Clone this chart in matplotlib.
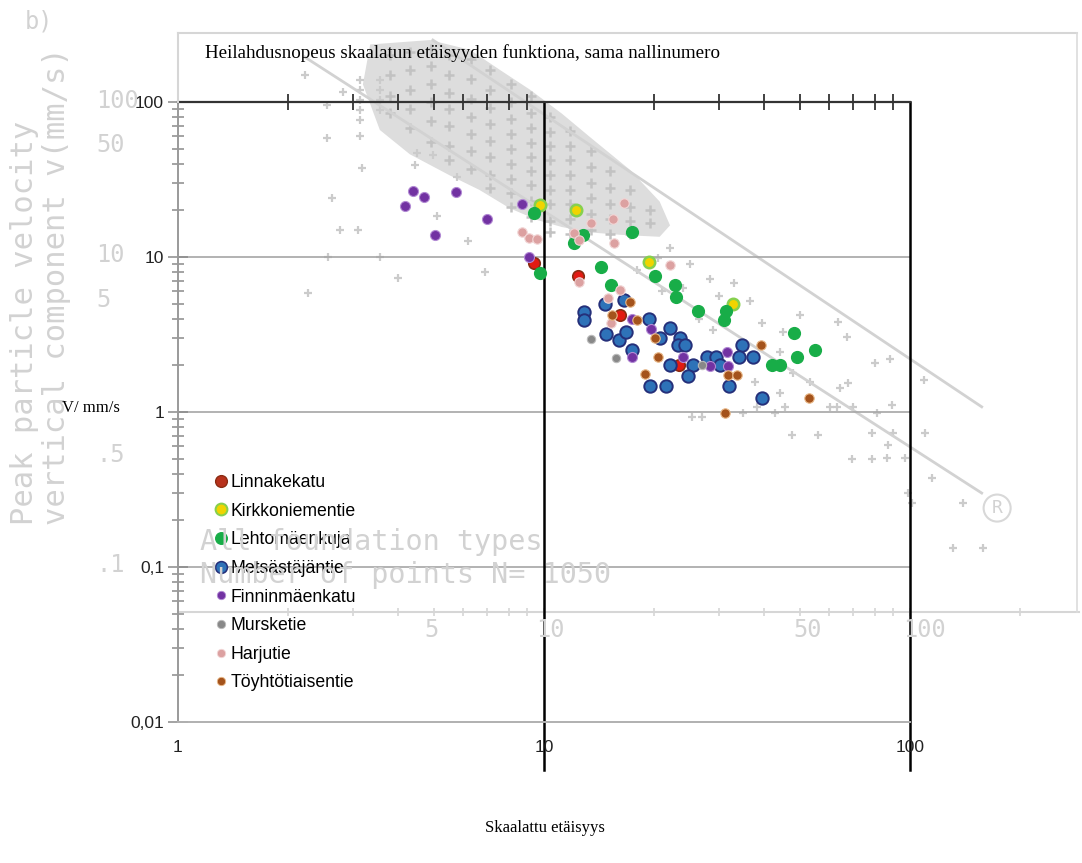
import matplotlib.pyplot as plt
from matplotlib.lines import Line2D

# mittaukset: skaalattu etäisyys ja heilahdusnopeus (mm/s)
linnake_x = [9.4, 12.4, 16.1, 23.4]
linnake_v = [9.1, 7.5, 4.2, 2.0]
kirkko_x = [9.75, 12.2, 19.4, 32.9]
kirkko_v = [21.7, 20.1, 9.3, 5.0]
lehto_x = [9.4, 9.75, 12.1, 12.8, 17.4, 14.3, 20.1, 15.2, 22.8, 23.0, 26.4, 31.4,
           31.1, 48.2, 55.0, 49.2, 41.9, 44.2]
lehto_v = [19.1, 7.9, 12.3, 13.9, 14.6, 8.6, 7.5, 6.6, 6.6, 5.5, 4.5, 4.5,
           3.9, 3.25, 2.5, 2.25, 2.0, 2.0]
metsa_x = [12.9, 12.9, 14.7, 16.5, 14.8, 16.0, 16.7, 17.4, 19.3, 22.1, 20.7, 23.5,
           23.3, 24.3, 22.1, 25.6, 24.8, 19.5, 21.5, 27.8, 29.6, 30.3, 34.7, 34.0,
           37.3, 32.1, 39.3]
metsa_v = [4.4, 3.9, 5.0, 5.3, 3.2, 2.9, 3.3, 2.5, 4.0, 3.5, 3.0, 3.0,
           2.7, 2.7, 2.0, 2.0, 1.7, 1.47, 1.47, 2.25, 2.25, 2.0, 2.7, 2.25,
           2.25, 1.47, 1.24]
finnin_x = [4.38, 4.71, 4.18, 5.74, 5.04, 6.97, 8.73, 9.12, 17.4, 19.6, 17.4, 24.0,
            28.4, 31.6, 31.8]
finnin_v = [26.8, 24.5, 21.4, 26.1, 13.9, 17.6, 22.0, 9.95, 3.98, 3.43, 2.26, 2.26,
            1.98, 2.44, 1.98]
murske_x = [13.4, 15.7, 27.1]
murske_v = [2.96, 2.22, 2.01]
harju_x = [16.5, 15.4, 13.4, 12.1, 12.5, 15.5, 8.69, 9.1, 9.55, 22.1, 12.5, 16.1,
           15.0, 15.2]
harju_v = [22.4, 17.6, 16.5, 14.3, 12.9, 12.4, 14.6, 13.2, 13.0, 8.9, 6.9, 6.1,
           5.4, 3.74]
toyhto_x = [17.2, 15.3, 18.0, 20.1, 20.5, 18.9, 39.1, 31.8, 33.6, 53.1, 31.2]
toyhto_v = [5.13, 4.22, 3.95, 2.98, 2.25, 1.75, 2.71, 1.73, 1.73, 1.24, 0.99]

# taustakuvan (vanha aineisto, N=1050) hajapisteet
old_x = [47.6, 56.1, 78.7, 89.9, 110, 87.1, 69.4, 78.7, 86.8, 96.9, 115, 98.7,
         101, 140, 131, 158, 80.2, 88.2, 109, 63.6, 67.3, 67.6, 64.4, 50.1,
         45.0, 39.4, 44.1, 47.9, 53.3, 37.7, 44.1, 45.5, 42.8, 38.2, 35.0, 25.4,
         27.0, 60.4, 63.2, 69.8, 81.2, 89.3,
         2.22, 2.55, 2.55, 2.63, 2.77, 3.11, 3.18, 2.57, 3.56, 3.14, 3.14, 3.14,
         3.14, 3.14, 3.14, 3.56, 3.56, 3.56, 3.56, 2.83, 2.27, 4.0, 4.49, 4.45,
         4.98, 5.09, 5.77, 6.21, 6.90,
         22.1, 25.1, 28.4, 20.5, 24.0, 30.0, 33.0, 36.6, 26.5, 29.0, 21.0, 18.0]
old_v = [0.711, 0.711, 0.732, 0.732, 0.732, 0.612, 0.498, 0.498, 0.505, 0.505, 0.375, 0.30,
         0.259, 0.259, 0.133, 0.133, 2.07, 2.20, 1.61, 3.81, 3.05, 1.54, 1.43, 4.23,
         3.28, 3.75, 2.44, 1.79, 1.56, 1.56, 1.33, 1.08, 0.985, 1.08, 0.985, 0.929,
         0.929, 1.08, 1.08, 1.08, 0.985, 1.11,
         149, 95.6, 58.3, 23.9, 14.9, 14.9, 37.4, 10.0, 10.0, 139, 120, 103,
         88.8, 76.6, 60, 139, 120, 103, 88.8, 116, 5.86, 7.29, 46.7, 39.2,
         45.5, 18.4, 32.7, 12.6, 8.04,
         11.5, 9.0, 7.2, 9.8, 6.3, 5.6, 6.8, 5.2, 4.0, 3.4, 6.0, 8.2]

# tiheä pistepilvi: mittauspisteet sarakkeittain
dense_x = ([3.8] * 4 + [4.3] * 5 + [4.9] * 6 + [5.5] * 7 + [6.3] * 7 + [7.1] * 8
           + [8.1] * 9 + [9.2] * 9 + [10.4] * 9 + [11.8] * 8 + [13.4] * 6
           + [15.1] * 5 + [17.2] * 4 + [19.5] * 2)
dense_v = [200, 150, 110, 85,
           210, 160, 120, 90, 68,
           220, 170, 130, 100, 75, 55,
           200, 150, 115, 90, 70, 52, 42,
           190, 140, 105, 80, 62, 48, 37,
           160, 120, 92, 72, 56, 44, 34, 28,
           130, 100, 78, 62, 50, 40, 32, 26, 21,
           110, 85, 68, 54, 44, 36, 29, 23, 18,
           80, 64, 52, 42, 34, 27, 22, 17, 14.5,
           65, 52, 42, 34, 27, 22, 17.5, 14,
           48, 38, 30, 24, 19, 15,
           36, 28, 22, 17.5, 14,
           27, 21, 17, 14,
           20, 16.5]
cloud_x = [3.35, 4.88, 6.28, 7.58, 9.16, 11.2, 13.4, 17.2, 20.7, 22.1, 20.7, 16.2,
           13.4, 11.2, 9.6, 8.07, 6.66, 5.53, 4.30, 3.56, 3.20]
cloud_v = [235, 251, 217, 161, 120, 84, 59, 36.4, 22.8, 16.0, 13.5, 13.9,
           14.4, 15.6, 17.3, 20.6, 27.1, 33.6, 46.0, 66.0, 130]

# rajakäyrät
upper_x = [4.97, 157]
upper_v = [251, 1.08]
lower_x = [2.22, 157]
lower_v = [195, 0.30]

W, H = 1082, 863
fig = plt.figure(figsize=(W / 100, H / 100), dpi=100)

# plot area in pixels: x 1..100 -> 178..910, v 100..0.01 -> 102..722
L, R, T, B = 178, 910, 102, 722
dec_x = (R - L) / 2
dec_y = (B - T) / 4

bg = fig.add_axes([0, 0, 1, 1])
bg.set_xscale('log')
bg.set_yscale('log')
bg.set_xlim(10 ** (-L / dec_x), 10 ** ((W - L) / dec_x))
bg.set_ylim(10 ** (2 - (H - T) / dec_y), 10 ** (2 + T / dec_y))
bg.axis('off')

grey = '#cbcbcb'
bg.fill(cloud_x, cloud_v, fc='#dddddd', ec='none', lw=0)
bg.plot(dense_x, dense_v, '+', color='#c2c2c2', ms=7, mew=1.8)
bg.plot(old_x, old_v, '+', color=grey, ms=6, mew=1.6)
bg.plot(upper_x, upper_v, color='#d2d2d2', lw=2)
bg.plot(lower_x, lower_v, color='#d2d2d2', lw=2)
bg.text(173, 0.24, 'R', fontsize=13, color='#d2d2d2', ha='center', va='center',
        family='DejaVu Sans Mono',
        bbox=dict(boxstyle='circle,pad=0.25', fc='none', ec='#d8d8d8', lw=1.5))


def px(x, y):
    return x / W, 1 - y / H


# vanhan kuvan kehys ja vaaka-akseli
fig.add_artist(Line2D([px(178, 0)[0], px(1077, 0)[0]], [px(0, 33)[1]] * 2, color='#d6d6d6', lw=1.5))
fig.add_artist(Line2D([px(1077, 0)[0]] * 2, [px(0, 33)[1], px(0, 612)[1]], color='#dcdcdc', lw=1.2))
fig.add_artist(Line2D([px(178, 0)[0]] * 2, [px(0, 33)[1], px(0, 102)[1]], color='#d6d6d6', lw=1.5))
old_axis_v = 10 ** (2 - (612 - T) / dec_y)
bg.plot([1, 290], [old_axis_v, old_axis_v], color='#d6d6d6', lw=1.5)
old_ticks = [2, 3, 4, 5, 6, 7, 8, 9, 10, 20, 30, 40, 50, 60, 70, 80, 90, 100, 200]
bg.plot(old_ticks, [old_axis_v] * len(old_ticks), '|', color='#d6d6d6', ms=6, mew=1.2)

mono = dict(family='DejaVu Sans Mono', color='#d2d2d2')
fig.text(*px(25, 22), 'b)', fontsize=17, va='center', ha='left', **mono)
fig.text(*px(25, 525), 'Peak particle velocity', fontsize=22, rotation=90,
         ha='center', va='bottom', **mono)
fig.text(*px(57, 525), 'vertical component v(mm/s)', fontsize=22, rotation=90,
         ha='center', va='bottom', **mono)
for lab, yy in [('100', 101), ('50', 145), ('10', 255), ('5', 300), ('.5', 455), ('.1', 565)]:
    fig.text(*px(96, yy), lab, fontsize=17, ha='left', va='center', **mono)
for lab, xx in [('5', 432), ('10', 550), ('50', 808), ('100', 925)]:
    fig.text(*px(xx, 630), lab, fontsize=17, ha='center', va='center', **mono)
fig.text(*px(200, 542), 'All foundation types', fontsize=20.5, ha='left', va='center', **mono)
fig.text(*px(200, 575), 'Number of points N= 1050', fontsize=20.5, ha='left', va='center', **mono)

# varsinainen kuvaaja
ax = fig.add_axes([L / W, 1 - B / H, (R - L) / W, (B - T) / H])
ax.patch.set_alpha(0)
ax.set_xscale('log')
ax.set_yscale('log')
ax.set_xlim(1, 100)
ax.set_ylim(0.01, 100)

for v in [10, 1, 0.1]:
    ax.axhline(v, color='#a6a6a6', lw=1.2, zorder=1)
for xv in [10, 100]:
    ax.axvline(xv, ymin=-0.077, ymax=1, color='black', lw=1.8, clip_on=False, zorder=1)

ax.spines['top'].set_color('#333333')
ax.spines['top'].set_linewidth(1.6)
ax.spines['right'].set_visible(False)
ax.spines['left'].set_color('#9a9a9a')
ax.spines['left'].set_linewidth(1.4)
ax.spines['bottom'].set_color('#b0b0b0')
ax.spines['bottom'].set_linewidth(1.4)

ax.set_xticks([1, 10, 100])
ax.set_xticklabels(['1', '10', '100'])
ax.set_yticks([0.01, 0.1, 1, 10, 100])
ax.set_yticklabels(['0,01', '0,1', '1', '10', '100'])
ax.tick_params(axis='x', which='both', top=True, bottom=False, labelbottom=True,
               direction='inout', color='#333333', width=1.3, pad=13)
ax.tick_params(axis='x', which='major', length=0)
ax.tick_params(axis='x', which='minor', length=11)
ax.tick_params(axis='y', which='both', direction='inout', color='#8a8a8a', width=1.1)
ax.tick_params(axis='y', which='major', length=14, pad=3)
ax.tick_params(axis='y', which='minor', length=8)
for lab in ax.get_xticklabels() + ax.get_yticklabels():
    lab.set_fontfamily('Liberation Sans')
    lab.set_fontsize(12.5)
    lab.set_color('#222222')

series = [
    ('Linnakekatu', linnake_x, linnake_v, '#e21a12', '#8a2c12', 68, 1.2),
    ('Kirkkoniementie', kirkko_x, kirkko_v, '#f0d400', '#86d04e', 68, 1.8),
    ('Lehtomäenkuja', lehto_x, lehto_v, '#18ad48', '#18ad48', 72, 1.0),
    ('Metsästäjäntie', metsa_x, metsa_v, '#2e72b8', '#25307a', 80, 1.4),
    ('Finninmäenkatu', finnin_x, finnin_v, '#7232a2', '#b28ad4', 52, 0.8),
    ('Mursketie', murske_x, murske_v, '#888888', '#bbbbbb', 36, 0.8),
    ('Harjutie', harju_x, harju_v, '#dca1a1', '#f2d6d6', 46, 0.8),
    ('Töyhtötiaisentie', toyhto_x, toyhto_v, '#a4531c', '#e8b888', 46, 0.8),
]
handles = []
for name, xs, vs, fc, ec, s, lw in series:
    ax.scatter(xs, vs, s=s, c=fc, edgecolors=ec, linewidths=lw, zorder=3)
    small = s < 60
    handles.append(Line2D([], [], ls='none', marker='o', ms=6 if small else 8.5,
                          mfc=fc if name != 'Linnakekatu' else '#b8321c',
                          mec=ec, mew=lw * 0.8, label=name))

leg = ax.legend(handles=handles, loc='upper left', frameon=False,
                bbox_to_anchor=px(217, 474), bbox_transform=fig.transFigure,
                borderaxespad=0, borderpad=0, handlelength=0.5, handletextpad=0.25,
                labelspacing=0.66, prop={'family': 'Liberation Sans', 'size': 12.7})

fig.text(*px(205, 53), 'Heilahdusnopeus skaalatun etäisyyden funktiona, sama nallinumero',
         family='Liberation Serif', fontsize=13.7, ha='left', va='center')
fig.text(*px(62, 408), 'V/ mm/s', family='Liberation Serif', fontsize=12, ha='left', va='center')
fig.text(*px(545, 828), 'Skaalattu etäisyys', family='Liberation Serif', fontsize=12,
         ha='center', va='center')

fig.savefig('out.png', dpi=100)
